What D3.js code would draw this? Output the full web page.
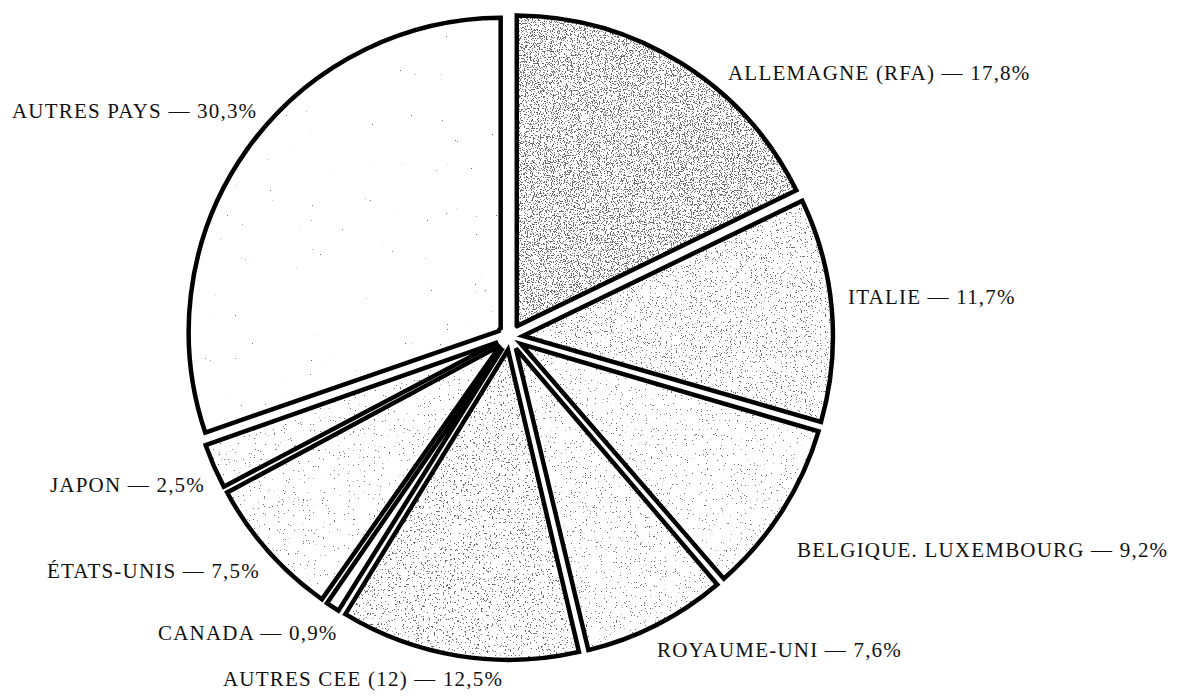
<!DOCTYPE html>
<html>
<head>
<meta charset="utf-8">
<script src="https://cdn.jsdelivr.net/npm/d3@7"></script>
<style>
  html, body { margin: 0; padding: 0; background: #fff; }
  svg { display: block; }
  .label { font-family: "Liberation Serif", "Times New Roman", serif; font-size: 21px; letter-spacing: 1.2px; fill: #111; }
</style>
</head>
<body>
<div id="chart"></div>
<script>
// exports by destination, % of total
const countries = ["ALLEMAGNE (RFA)", "ITALIE", "BELGIQUE. LUXEMBOURG", "ROYAUME-UNI",
                   "AUTRES CEE (12)", "CANADA", "ÉTATS-UNIS", "JAPON", "AUTRES PAYS"];
const shares = [17.8, 11.7, 9.2, 7.6, 12.5, 0.9, 7.5, 2.5, 30.3];

// noise threshold of each slice's stipple (higher = fewer specks, 0 = none),
// grain size of the stipple, and where each label sits
const threshold = [0.565, 0.655, 0.715, 0.695, 0.645, 0, 0.725, 0.725, 0.84];
const grain = [0.85, 0.8, 0.8, 0.8, 0.55, 0.8, 0.8, 0.8, 0.8];
const labelPos = [[728, 80], [848, 304], [797, 557], [657, 657], [223, 686],
                  [158, 640], [47, 578], [50, 492], [12, 118]];

const width = 1183, height = 698;
const cx = 510, cy = 337, R = 314, explode = 9, pad = 4;

const data = countries.map((c, i) => ({name: c, share: shares[i], i: i}));

const svg = d3.select("#chart").append("svg")
    .attr("width", width)
    .attr("height", height);

const defs = svg.append("defs");
threshold.forEach(function(t, i) {
    if (!t) return;
    // threshold on fractal noise -> dark specks, clipped to the slice
    const k = 30;
    const f = defs.append("filter")
        .attr("id", "stip" + i)
        .attr("x", "-5%").attr("y", "-5%")
        .attr("width", "110%").attr("height", "110%");
    f.append("feTurbulence")
        .attr("type", "fractalNoise")
        .attr("baseFrequency", grain[i])
        .attr("numOctaves", 2)
        .attr("seed", i + 3)
        .attr("result", "noise");
    f.append("feColorMatrix")
        .attr("in", "noise")
        .attr("type", "matrix")
        .attr("values", "0 0 0 0 0.15  0 0 0 0 0.15  0 0 0 0 0.15  " + k + " 0 0 0 " + (-k * t))
        .attr("result", "dots");
    f.append("feComposite")
        .attr("in", "dots")
        .attr("in2", "SourceGraphic")
        .attr("operator", "in");
});

const pie = d3.pie()
    .sort(null)
    .value(d => d.share)
    .startAngle(0)
    .endAngle(2 * Math.PI);

const arc = d3.arc()
    .innerRadius(4)
    .outerRadius(R)
    .padRadius(R)
    .padAngle(pad / R);

const g = svg.append("g")
    .attr("transform", "translate(" + cx + "," + cy + ")");

const slices = g.selectAll(".slice")
    .data(pie(data))
    .enter()
    .append("g")
    .attr("class", "slice")
    .attr("transform", function(d) {
        const a = (d.startAngle + d.endAngle) / 2;
        return "translate(" + (Math.sin(a) * explode) + "," + (-Math.cos(a) * explode) + ")";
    });

slices.append("path")
    .attr("d", arc)
    .attr("fill", "#fff");

slices.filter(d => threshold[d.data.i] > 0)
    .append("path")
    .attr("d", arc)
    .attr("fill", "#000")
    .attr("filter", d => "url(#stip" + d.data.i + ")");

slices.append("path")
    .attr("d", arc)
    .attr("fill", "none")
    .attr("stroke", "#000")
    .attr("stroke-width", 4.5)
    .attr("stroke-linejoin", "miter");

svg.selectAll(".label")
    .data(data)
    .enter()
    .append("text")
    .attr("class", "label")
    .attr("x", d => labelPos[d.i][0])
    .attr("y", d => labelPos[d.i][1])
    .text(d => d.name + " — " + d.share.toFixed(1).replace(".", ",") + "%");
</script>
</body>
</html>
